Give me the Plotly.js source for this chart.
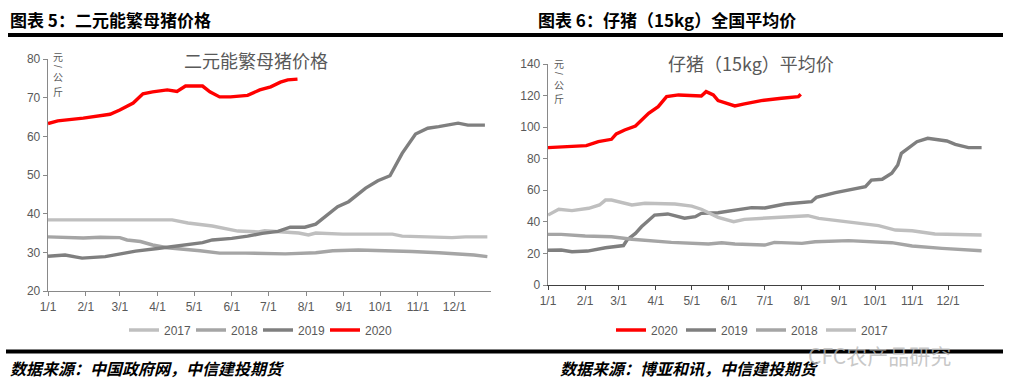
<!DOCTYPE html>
<html>
<head>
<meta charset="utf-8">
<script src="https://cdn.plot.ly/plotly-3.0.1.min.js"></script>
<style>
html,body{margin:0;padding:0;background:#fff;}
#chart{width:1010px;height:391px;}
</style>
</head>
<body>
<div id="chart"></div>
<script>
// ---------- Data (month-day; x axis is day of year) ----------
// Chart 5: 二元能繁母猪价格 (元/公斤)
var sowDates2017 = ["01-01","04-13","04-26","05-16","06-06","06-23","06-28","07-26","08-03","08-09","08-31","10-11","10-19","11-21","11-29","12-10","12-28"];
var sowVals2017  = [38.4,38.4,37.6,36.8,35.5,35.3,35.6,35.0,34.5,35.0,34.7,34.7,34.2,34.0,33.8,34.0,34.0];
var sowDates2018 = ["01-01","01-30","02-13","03-01","03-07","03-18","03-28","04-09","05-06","05-22","06-12","06-28","07-15","08-09","08-23","09-13","10-11","10-27","11-18","12-10","12-17","12-28"];
var sowVals2018  = [34.0,33.7,33.9,33.8,33.2,32.8,31.9,31.2,30.4,29.8,29.8,29.6,29.6,29.9,30.4,30.6,30.4,30.2,29.9,29.6,29.3,28.9];
var sowDates2019 = ["01-01","01-15","01-29","02-17","03-05","03-14","04-01","04-18","05-08","05-16","06-01","06-14","06-26","07-09","07-19","07-31","08-09","08-27","09-05","09-19","09-29","10-09","10-19","10-30","11-09","11-18","12-04","12-12","12-26"];
var sowVals2019  = [29.0,29.3,28.5,28.9,29.8,30.3,31.0,31.6,32.5,33.2,33.6,34.2,34.9,35.4,36.5,36.5,37.3,41.8,43.1,46.6,48.5,49.8,55.6,60.6,62.1,62.5,63.4,62.9,62.9];
var sowDates2020 = ["01-01","01-09","01-30","02-13","02-21","03-01","03-12","03-20","03-28","04-09","04-17","04-24","05-08","05-14","05-22","05-31","06-14","06-24","07-03","07-11","07-17","07-25"];
var sowVals2020  = [63.3,64.0,64.7,65.3,65.7,66.8,68.6,71.0,71.5,72.0,71.6,73.0,73.0,71.5,70.2,70.2,70.6,72.0,72.8,74.0,74.6,74.8];

// Chart 6: 仔猪（15kg）平均价 (元/公斤)
var pigDates2020 = ["01-01","01-15","02-02","02-12","02-23","02-27","03-06","03-15","03-20","03-26","04-03","04-10","04-20","05-09","05-13","05-19","05-23","06-06","06-14","06-28","07-15","07-29","07-31"];
var pigVals2020  = [87.0,87.6,88.3,90.8,92.3,95.7,98.2,100.7,104.5,108.8,113.0,119.3,120.4,119.7,122.5,120.4,116.8,113.4,114.7,116.8,118.3,119.3,120.8];
var pigDates2019 = ["01-01","01-12","01-21","02-03","02-18","03-05","03-08","03-15","03-20","03-26","03-31","04-11","04-25","05-04","05-09","05-23","06-06","06-20","07-01","07-18","08-09","08-13","08-29","09-14","09-23","09-28","10-07","10-15","10-20","10-23","10-29","11-05","11-14","11-30","12-07","12-18","12-29"];
var pigVals2019  = [22.0,22.2,21.1,21.5,23.6,25.0,28.5,32.7,36.9,41.2,44.3,45.0,42.3,43.3,45.4,45.8,47.5,49.0,48.8,51.3,52.8,55.5,58.5,60.6,62.3,66.5,67.0,70.8,76.0,83.4,86.6,90.8,92.9,91.2,89.1,87.0,87.0];
var pigDates2018 = ["01-01","01-12","02-01","02-23","03-12","03-31","04-14","05-15","05-26","06-06","06-23","07-01","07-09","08-01","08-12","09-09","10-15","11-01","11-26","12-29"];
var pigVals2018  = [32.1,32.1,31.0,30.6,29.0,27.9,27.0,26.0,26.8,26.0,25.3,25.3,27.0,26.4,27.4,28.1,26.8,24.7,23.2,21.7];
var pigDates2017 = ["01-01","01-10","01-21","02-04","02-13","02-18","02-23","03-12","03-23","04-17","05-01","05-09","05-23","06-05","06-14","07-01","08-06","08-15","09-23","10-04","10-18","11-01","11-20","12-29"];
var pigVals2017  = [44.3,48.0,47.1,48.6,50.7,53.8,53.8,50.7,51.8,51.3,50.0,48.0,42.9,40.1,41.6,42.5,43.9,42.2,38.6,37.6,34.8,34.4,32.3,31.7];

var monthTicks = ["01-01","02-01","03-01","04-01","05-01","06-01","07-01","08-01","09-01","10-01","11-01","12-01"];
var monthLabels = ["1/1","2/1","3/1","4/1","5/1","6/1","7/1","8/1","9/1","10/1","11/1","12/1"];

var yearColors = {"2017":"#bfbfbf","2018":"#a5a5a5","2019":"#7f7f7f","2020":"#ff0000"};

// ---------- helpers ----------
var BASEYEAR = "2021-";
function toX(arr){ return arr.map(function(d){ return BASEYEAR + d; }); }
var W = 1010, H = 391;
function fx(p){ return p / W; }
function fy(p){ return 1 - p / H; }

var FONT = "Liberation Sans, Arial, sans-serif";
var CJK = "Noto Sans CJK SC, sans-serif";
var GREY = "#595959";

function line(dates, vals, name, xa, ya, leg){
  return {
    x: toX(dates), y: vals, name: name, type: "scatter", mode: "lines",
    xaxis: xa, yaxis: ya, legend: leg,
    line: {color: yearColors[name], width: 3.4},
    hoverinfo: "skip"
  };
}

var traces = [
  line(sowDates2017, sowVals2017, "2017", "x", "y", "legend"),
  line(sowDates2018, sowVals2018, "2018", "x", "y", "legend"),
  line(sowDates2019, sowVals2019, "2019", "x", "y", "legend"),
  line(sowDates2020, sowVals2020, "2020", "x", "y", "legend"),
  line(pigDates2020, pigVals2020, "2020", "x2", "y2", "legend2"),
  line(pigDates2019, pigVals2019, "2019", "x2", "y2", "legend2"),
  line(pigDates2018, pigVals2018, "2018", "x2", "y2", "legend2"),
  line(pigDates2017, pigVals2017, "2017", "x2", "y2", "legend2")
];

function xaxisDef(domain, lineColor, anchor){
  return {
    domain: domain, anchor: anchor, type: "date",
    range: [BASEYEAR + "01-01", BASEYEAR + "12-31"],
    tickmode: "array", tickvals: toX(monthTicks), ticktext: monthLabels,
    showline: true, linecolor: lineColor, linewidth: 1.3,
    ticks: "outside", ticklen: 4, tickcolor: lineColor, tickwidth: 1,
    showgrid: false, zeroline: false,
    tickfont: {family: FONT, size: 12, color: GREY},
    fixedrange: true
  };
}
function yaxisDef(domain, range, dtick, anchor){
  return {
    domain: domain, anchor: anchor, range: range, dtick: dtick, tick0: 0,
    showline: true, linecolor: "#898989", linewidth: 1.3,
    ticks: "outside", ticklen: 4, tickcolor: "#898989", tickwidth: 1,
    showgrid: false, zeroline: false,
    tickfont: {family: FONT, size: 12, color: GREY},
    fixedrange: true
  };
}

function unitLabel(cx, yTop){
  var f = {family: CJK, size: 10, color: GREY};
  return [
    {text: "元", xref: "paper", yref: "paper", x: fx(cx), y: fy(yTop), xanchor: "center", yanchor: "middle", showarrow: false, font: f},
    {text: "/", textangle: 90, xref: "paper", yref: "paper", x: fx(cx), y: fy(yTop + 10), xanchor: "center", yanchor: "middle", showarrow: false, font: {family: FONT, size: 10, color: GREY}},
    {text: "公", xref: "paper", yref: "paper", x: fx(cx), y: fy(yTop + 21), xanchor: "center", yanchor: "middle", showarrow: false, font: f},
    {text: "斤", xref: "paper", yref: "paper", x: fx(cx), y: fy(yTop + 35), xanchor: "center", yanchor: "middle", showarrow: false, font: f}
  ];
}

var annotations = [
  {text: "<b>图表 5：二元能繁母猪价格</b>", xref: "paper", yref: "paper", x: fx(8), y: fy(20), xanchor: "left", yanchor: "middle", showarrow: false, font: {family: CJK, size: 17, color: "#000"}},
  {text: "<b>图表 6：仔猪（15kg）全国平均价</b>", xref: "paper", yref: "paper", x: fx(536), y: fy(20), xanchor: "left", yanchor: "middle", showarrow: false, font: {family: CJK, size: 17, color: "#000"}},
  {text: "二元能繁母猪价格", xref: "paper", yref: "paper", x: fx(256), y: fy(60), xanchor: "center", yanchor: "middle", showarrow: false, font: {family: CJK, size: 18, color: GREY}},
  {text: "仔猪（15kg）平均价", xref: "paper", yref: "paper", x: fx(751), y: fy(63), xanchor: "center", yanchor: "middle", showarrow: false, font: {family: CJK, size: 18, color: GREY}},
  {text: "<b><i>数据来源：中国政府网，中信建投期货</i></b>", xref: "paper", yref: "paper", x: fx(8), y: fy(368), xanchor: "left", yanchor: "middle", showarrow: false, font: {family: CJK, size: 16, color: "#000"}},
  {text: "<b><i>数据来源：博亚和讯，中信建投期货</i></b>", xref: "paper", yref: "paper", x: fx(558), y: fy(368), xanchor: "left", yanchor: "middle", showarrow: false, font: {family: CJK, size: 16, color: "#000"}},
  {text: "CFC农产品研究", xref: "paper", yref: "paper", x: fx(806), y: fy(355), xanchor: "left", yanchor: "middle", showarrow: false, font: {family: CJK, size: 21, color: "rgba(185,185,185,0.8)"}}
].concat(unitLabel(58, 56)).concat(unitLabel(559, 63));

var layout = {
  width: W, height: H,
  margin: {l: 0, r: 0, t: 0, b: 0},
  paper_bgcolor: "#ffffff", plot_bgcolor: "#ffffff",
  showlegend: true,
  xaxis: xaxisDef([fx(48), fx(491)], "#898989", "y"),
  yaxis: yaxisDef([fy(291), fy(59)], [20, 80], 10, "x"),
  xaxis2: xaxisDef([fx(548), fx(984)], "#404040", "y2"),
  yaxis2: yaxisDef([fy(285), fy(64)], [0, 140], 20, "x2"),
  legend: {
    orientation: "h", x: fx(124), y: fy(330), xanchor: "left", yanchor: "middle",
    font: {family: FONT, size: 12, color: GREY}, bgcolor: "rgba(0,0,0,0)",
    entrywidth: 22, entrywidthmode: "pixels", itemwidth: 30, traceorder: "normal"
  },
  legend2: {
    orientation: "h", x: fx(611), y: fy(330), xanchor: "left", yanchor: "middle",
    font: {family: FONT, size: 12, color: GREY}, bgcolor: "rgba(0,0,0,0)",
    entrywidth: 25, entrywidthmode: "pixels", itemwidth: 30, traceorder: "normal"
  },
  shapes: [
    {type: "line", xref: "paper", yref: "paper", x0: fx(8), x1: fx(1003), y0: fy(35), y1: fy(35), line: {color: "#000", width: 4}},
    {type: "line", xref: "paper", yref: "paper", x0: fx(6), x1: fx(1003), y0: fy(351.5), y1: fy(351.5), line: {color: "#000", width: 4}}
  ],
  annotations: annotations
};

Plotly.newPlot("chart", traces, layout, {staticPlot: true, displayModeBar: false});
</script>
</body>
</html>
